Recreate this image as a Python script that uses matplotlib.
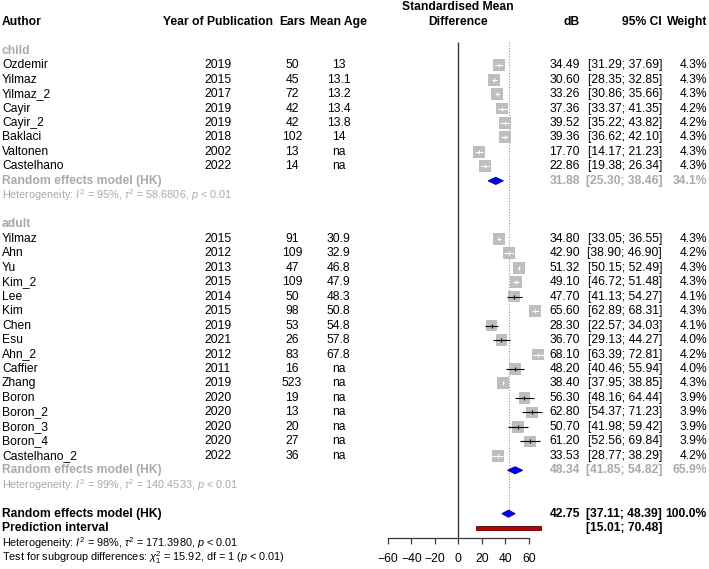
import matplotlib
matplotlib.use("Agg")
import matplotlib.pyplot as plt
from matplotlib import transforms
from matplotlib.patches import Polygon, Rectangle
import numpy as np

plt.rcParams['font.family'] = ['Liberation Sans', 'DejaVu Sans']
plt.rcParams['mathtext.fontset'] = 'custom'
plt.rcParams['mathtext.rm'] = 'Liberation Sans'
plt.rcParams['mathtext.it'] = 'Liberation Sans:italic'
plt.rcParams['mathtext.bf'] = 'Liberation Sans:bold'

# ---------------- data ----------------
child_author = ["Ozdemir", "Yilmaz", "Yilmaz_2", "Cayir", "Cayir_2", "Baklaci", "Valtonen", "Castelhano"]
child_year = ["2019", "2015", "2017", "2019", "2019", "2018", "2002", "2022"]
child_ears = ["50", "45", "72", "42", "42", "102", "13", "14"]
child_age = ["13", "13.1", "13.2", "13.4", "13.8", "14", "na", "na"]
child_est = [34.49, 30.60, 33.26, 37.36, 39.52, 39.36, 17.70, 22.86]
child_lo = [31.29, 28.35, 30.86, 33.37, 35.22, 36.62, 14.17, 19.38]
child_hi = [37.69, 32.85, 35.66, 41.35, 43.82, 42.10, 21.23, 26.34]
child_w = [4.3, 4.3, 4.3, 4.2, 4.2, 4.3, 4.3, 4.3]
child_re = (31.88, 25.30, 38.46, 34.1)
child_het = r"Heterogeneity: $I^2$ = 95%, $\tau^2$ = 58.6806, $p$ < 0.01"

adult_author = ["Yilmaz", "Ahn", "Yu", "Kim_2", "Lee", "Kim", "Chen", "Esu", "Ahn_2", "Caffier",
                "Zhang", "Boron", "Boron_2", "Boron_3", "Boron_4", "Castelhano_2"]
adult_year = ["2015", "2012", "2013", "2015", "2014", "2015", "2019", "2021", "2012", "2011",
              "2019", "2020", "2020", "2020", "2020", "2022"]
adult_ears = ["91", "109", "47", "109", "50", "98", "53", "26", "83", "16",
              "523", "19", "13", "20", "27", "36"]
adult_age = ["30.9", "32.9", "46.8", "47.9", "48.3", "50.8", "54.8", "57.8", "67.8", "na",
             "na", "na", "na", "na", "na", "na"]
adult_est = [34.80, 42.90, 51.32, 49.10, 47.70, 65.60, 28.30, 36.70, 68.10, 48.20,
             38.40, 56.30, 62.80, 50.70, 61.20, 33.53]
adult_lo = [33.05, 38.90, 50.15, 46.72, 41.13, 62.89, 22.57, 29.13, 63.39, 40.46,
            37.95, 48.16, 54.37, 41.98, 52.56, 28.77]
adult_hi = [36.55, 46.90, 52.49, 51.48, 54.27, 68.31, 34.03, 44.27, 72.81, 55.94,
            38.85, 64.44, 71.23, 59.42, 69.84, 38.29]
adult_w = [4.3, 4.2, 4.3, 4.3, 4.1, 4.3, 4.1, 4.0, 4.2, 4.0,
           4.3, 3.9, 3.9, 3.9, 3.9, 4.2]
adult_re = (48.34, 41.85, 54.82, 65.9)
adult_het = r"Heterogeneity: $I^2$ = 99%, $\tau^2$ = 140.4533, $p$ < 0.01"

overall_re = (42.75, 37.11, 48.39, 100.0)
pred_int = (15.01, 70.48)
overall_het = r"Heterogeneity: $I^2$ = 98%, $\tau^2$ = 171.3980, $p$ < 0.01"
subgroup_test = r"Test for subgroup differences: $\chi^2_1$ = 15.92, df = 1 ($p$ < 0.01)"

xticks = [-60, -40, -20, 0, 20, 40, 60]

# ---------------- layout ----------------
W, H = 709, 569
fig = plt.figure(figsize=(W / 100, H / 100), dpi=100)
ax = fig.add_axes([0, 0, 1, 1])
x0_px, px_per_unit = 458.3, 1.175
row0_px, row_px = 21.7, 14.47
ax.set_xlim(-x0_px / px_per_unit, (W - x0_px) / px_per_unit)
ax.set_ylim((H - row0_px) / row_px, -row0_px / row_px)

FS = 8.7
FS_HET = 7.8
GRAY = '#a9a9a9'
SQ = '#bebebe'
tr = transforms.blended_transform_factory(ax.transAxes, ax.transData)

col_author = 2 / W
col_year = 218 / W
col_ears = 292 / W
col_age = 338.5 / W
col_db = 580 / W
col_ci = 662 / W
col_w = 707 / W

def txt(x, y, s, ha='left', color='black', weight='normal', fs=FS, transform=tr):
    ax.text(x, y, s, ha=ha, va='center', color=color, fontweight=weight, fontsize=fs,
            transform=transform)

# headers
txt(col_author, 0, "Author", weight='bold')
txt(col_year, 0, "Year of Publication", ha='center', weight='bold')
txt(col_ears, 0, "Ears", ha='center', weight='bold')
txt(col_age, 0, "Mean Age", ha='center', weight='bold')
txt(0, -1, "Standardised Mean", ha='center', weight='bold', transform=ax.transData)
txt(0, 0, "Difference", ha='center', weight='bold', transform=ax.transData)
txt(col_db, 0, "dB", ha='right', weight='bold')
txt(col_ci, 0, "95% CI", ha='right', weight='bold')
txt(col_w, 0, "Weight", ha='right', weight='bold')

def fmt_ci(lo, hi):
    return f"[{lo:.2f}; {hi:.2f}]"

def diamond(est, lo, hi, y):
    h = 3.6 / row_px
    ax.add_patch(Polygon([[lo, y], [est, y - h], [hi, y], [est, y + h]], closed=True,
                         facecolor='#0000ff', edgecolor='#00008b', lw=0.6, zorder=4))

def group(label, start, authors, years, ears, ages, est, lo, hi, w, re, het):
    txt(col_author, start, label, color=GRAY, weight='bold')
    rows = np.arange(len(authors)) + start + 1
    side_px = 12.0 * np.sqrt(np.array(w) / 4.3)
    ax.scatter(est, rows, s=(side_px * 0.72) ** 2, marker='s', color=SQ, lw=0, zorder=2)
    for i, y in enumerate(rows):
        ci_px = (hi[i] - lo[i]) * px_per_unit
        c = 'white' if ci_px < side_px[i] else 'black'
        ax.hlines(y, lo[i], hi[i], color=c, lw=0.8, zorder=3)
        ax.plot([est[i]], [y], marker='|', ms=3.2, mew=0.8, color=c, zorder=3)
        txt(col_author, y, authors[i])
        txt(col_year, y, years[i], ha='center')
        txt(col_ears, y, ears[i], ha='center')
        txt(col_age, y, ages[i], ha='center')
        txt(col_db, y, f"{est[i]:.2f}", ha='right')
        txt(col_ci, y, fmt_ci(lo[i], hi[i]), ha='right')
        txt(col_w, y, f"{w[i]:.1f}%", ha='right')
    yre = rows[-1] + 1
    txt(col_author, yre, "Random effects model (HK)", color=GRAY, weight='bold')
    diamond(re[0], re[1], re[2], yre)
    txt(col_db, yre, f"{re[0]:.2f}", ha='right', color=GRAY, weight='bold')
    txt(col_ci, yre, fmt_ci(re[1], re[2]), ha='right', color=GRAY, weight='bold')
    txt(col_w, yre, f"{re[3]:.1f}%", ha='right', color=GRAY, weight='bold')
    txt(col_author, yre + 1, het, color=GRAY, fs=FS_HET)
    return yre + 1

end1 = group("child", 2, child_author, child_year, child_ears, child_age,
             child_est, child_lo, child_hi, child_w, child_re, child_het)
end2 = group("adult", end1 + 2, adult_author, adult_year, adult_ears, adult_age,
             adult_est, adult_lo, adult_hi, adult_w, adult_re, adult_het)

y_all = end2 + 2
txt(col_author, y_all, "Random effects model (HK)", weight='bold')
diamond(overall_re[0], overall_re[1], overall_re[2], y_all)
txt(col_db, y_all, f"{overall_re[0]:.2f}", ha='right', weight='bold')
txt(col_ci, y_all, fmt_ci(overall_re[1], overall_re[2]), ha='right', weight='bold')
txt(col_w, y_all, f"{overall_re[3]:.1f}%", ha='right', weight='bold')

y_pred = y_all + 1
txt(col_author, y_pred, "Prediction interval", weight='bold')
ph = 3.6 / row_px
ax.add_patch(Rectangle((pred_int[0], y_pred - ph / 2), pred_int[1] - pred_int[0], ph,
                       facecolor='#c00000', edgecolor='#500000', lw=0.6, zorder=4))
txt(col_ci, y_pred, fmt_ci(*pred_int), ha='right', weight='bold')
txt(col_author, y_pred + 1.02, overall_het, fs=FS_HET)
txt(col_author, y_pred + 2.05, subgroup_test, fs=FS_HET)

# reference lines
y_axis = y_pred + 0.65
top = 1.4
ax.vlines(0, top, y_axis, color='#3a3a3a', lw=1.0, zorder=1)
ax.vlines(overall_re[0], top, y_all - 3.6 / row_px, color='#9a9a9a', lw=0.8,
          linestyles=(0, (1, 1.5)), zorder=1)

# axis
for s in ['left', 'right', 'top']:
    ax.spines[s].set_visible(False)
ax.spines['bottom'].set_position(('data', y_axis))
ax.spines['bottom'].set_bounds(xticks[0], xticks[-1])
ax.spines['bottom'].set_color('#3a3a3a')
ax.spines['bottom'].set_linewidth(0.9)
ax.set_xticks(xticks)
ax.set_xticklabels([f"{t}".replace('-', '\u2212') for t in xticks])
ax.tick_params(axis='x', direction='out', length=4, width=0.9, color='#3a3a3a',
               labelsize=FS, pad=7)
ax.set_yticks([])

fig.savefig("out.png", dpi=100)
